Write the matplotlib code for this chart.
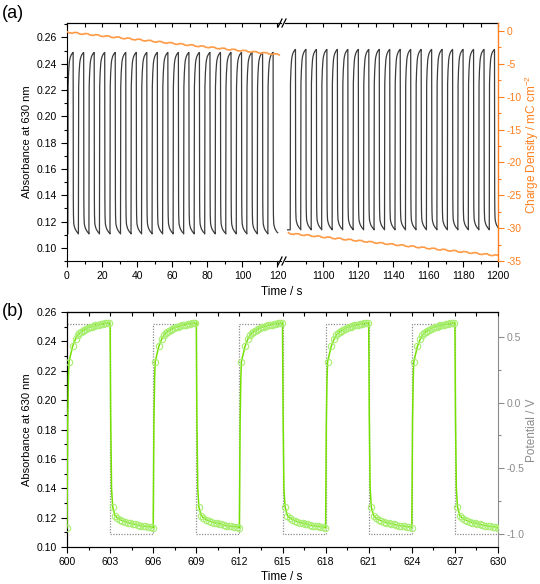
import numpy as np
import matplotlib
from matplotlib import pyplot as plt
from matplotlib.ticker import MultipleLocator, FixedLocator

matplotlib.rcParams["font.family"] = ["Liberation Sans", "DejaVu Sans"]
matplotlib.rcParams["font.size"] = 7.5
matplotlib.rcParams["mathtext.default"] = "regular"
matplotlib.rcParams["axes.unicode_minus"] = False

# one switching cycle (6 s): time after switching, absorbance
rise_edge_dt = [0.0, 0.05, 0.10]
rise_edge_abs = [0.1130, 0.1850, 0.2150]
rise_dt = [0.14, 0.39, 0.60, 0.74, 0.86, 0.97, 1.09, 1.21, 1.32, 1.46, 1.60,
           1.74, 1.86, 1.97, 2.11, 2.25, 2.39, 2.53, 2.67, 2.81, 2.94]
rise_abs = [0.2262, 0.2366, 0.2418, 0.2441, 0.2455, 0.2466, 0.2473, 0.2477, 0.2484,
            0.2493, 0.2498, 0.2500, 0.2505, 0.2509, 0.2511, 0.2513, 0.2518, 0.2520,
            0.2523, 0.2525, 0.2526]
fall_edge_dt = [0.0, 0.04, 0.10]
fall_edge_abs = [0.2526, 0.1900, 0.1400]
fall_dt = [0.18, 0.34, 0.50, 0.69, 0.85, 1.04, 1.22, 1.41, 1.57, 1.73, 1.92, 2.08,
           2.27, 2.45, 2.64, 2.82, 2.98]
fall_abs = [0.1273, 0.1214, 0.1198, 0.1187, 0.1180, 0.1173, 0.1166, 0.1162, 0.1160,
            0.1155, 0.1150, 0.1146, 0.1143, 0.1141, 0.1139, 0.1137, 0.1131]
abs_low_ref, abs_high_ref = 0.1130, 0.2526

# panel (a): plateau levels of the two time windows
left_first_switch, left_end = 0.5, 121.0
left_low, left_high = 0.1106, 0.2486
right_first_switch, right_start, right_end = 1081.0, 1079.5, 1200.0
right_low, right_high = 0.1137, 0.2509

# charge density (mC cm-2): start values and the wiggle of one cycle
charge_left_start = -0.10
charge_right_start = -30.70
charge_cycle_dt = [0.0, 1.0, 3.0, 4.0, 6.0]
charge_cycle_off = [0.0, -0.18, -0.26, -0.14, -0.17]

# panel (b): potential steps (V)
pot_high, pot_low = 0.60, -1.00
b_start, b_end, half_period = 600, 630, 3


def response(first_switch, t_start, t_stop, low, high, with_edges=True):
    ts, vs = [t_start], [abs_low_ref]
    t0 = first_switch
    while t0 < t_stop:
        rd = (rise_edge_dt if with_edges else []) + rise_dt
        ra = (rise_edge_abs if with_edges else []) + rise_abs
        fd = (fall_edge_dt if with_edges else []) + fall_dt
        fa = (fall_edge_abs if with_edges else []) + fall_abs
        ts += [t0 + d for d in rd] + [t0 + half_period + d for d in fd]
        vs += list(ra) + list(fa)
        t0 += 2 * half_period
    ts, vs = np.array(ts), np.array(vs)
    vs = low + (vs - abs_low_ref) / (abs_high_ref - abs_low_ref) * (high - low)
    keep = ts <= t_stop
    return ts[keep], vs[keep]


def charge_trace(t_start, t_stop, start_value):
    ts, vs = [], []
    t0, base = t_start, start_value
    while t0 < t_stop:
        ts += [t0 + d for d in charge_cycle_dt[:-1]]
        vs += [base + o for o in charge_cycle_off[:-1]]
        base += charge_cycle_off[-1]
        t0 += 2 * half_period
    ts.append(t0)
    vs.append(base)
    ts, vs = np.array(ts), np.array(vs)
    keep = ts <= t_stop
    return ts[keep], vs[keep]


W, H = 540, 584
fig = plt.figure(figsize=(W / 100, H / 100), dpi=100)

orange = "#FF7F1E"
orange_line = "#FF9A45"
gray = "#8C8C8C"
dark = "#3C3C3C"

a_bottom, a_top = 1 - 261 / H, 1 - 23 / H
axL = fig.add_axes([67 / W, a_bottom, (281 - 67) / W, a_top - a_bottom])
axR = fig.add_axes([285 / W, a_bottom, (498 - 285) / W, a_top - a_bottom], sharey=axL)

tl, vl = response(left_first_switch, 0.0, 120.3, left_low, left_high)
tr, vr = response(right_first_switch, right_start, right_end, right_low, right_high)
axL.plot(tl, vl, color=dark, lw=0.9)
axR.plot(tr, vr, color=dark, lw=0.9)
axL.set_xlim(0, 122)
axR.set_xlim(1078, 1200)
axL.set_ylim(0.09, 0.271)

axL2 = axL.twinx()
axR2 = axR.twinx()
cl_t, cl_v = charge_trace(0.0, left_end, charge_left_start)
cr_t, cr_v = charge_trace(1080.0, right_end, charge_right_start)
axL2.plot(cl_t, cl_v, color=orange_line, lw=1.2)
axR2.plot(cr_t, cr_v, color=orange_line, lw=1.2)
for a in (axL2, axR2):
    a.set_ylim(-35, 1.2)
axL2.set_axis_off()

# spines / ticks panel (a)
axL.spines["right"].set_visible(False)
axR.spines["right"].set_visible(False)
axR.spines["left"].set_visible(False)
for s in ("left", "top", "bottom"):
    axR2.spines[s].set_visible(False)
axR2.spines["right"].set_color(orange)
axR2.spines["right"].set_linewidth(1.0)

left_major = [0, 20, 40, 60, 80, 100, 120]
left_minor = [10, 30, 50, 70, 90, 110]
right_major = [1100, 1120, 1140, 1160, 1180, 1200]
right_minor = [1090, 1110, 1130, 1150, 1170, 1190]
axL.xaxis.set_major_locator(FixedLocator(left_major))
axL.xaxis.set_minor_locator(FixedLocator(left_minor))
axR.xaxis.set_major_locator(FixedLocator(right_major))
axR.xaxis.set_minor_locator(FixedLocator(right_minor))
axL.yaxis.set_major_locator(MultipleLocator(0.02))
axL.yaxis.set_minor_locator(MultipleLocator(0.01))
axL.yaxis.set_major_formatter(matplotlib.ticker.FormatStrFormatter("%.2f"))
axR2.yaxis.set_major_locator(MultipleLocator(5))
axR2.yaxis.set_minor_locator(MultipleLocator(2.5))
axR2.tick_params(axis="y", which="both", colors=orange, direction="out", width=0.8, pad=2.5)
axR2.tick_params(axis="y", which="major", length=4)
axR2.tick_params(axis="y", which="minor", length=2)

for a, ticks in ((axL, left_major + left_minor), (axR, right_major + right_minor)):
    a.tick_params(which="both", direction="out", width=0.8)
    a.tick_params(which="major", length=4)
    a.tick_params(which="minor", length=2)
    top = a.secondary_xaxis("top")
    top.set_xticks(sorted(ticks))
    top.tick_params(direction="in", length=3, labeltop=False, width=0.8)
axR.tick_params(axis="y", which="both", left=False, right=False, labelleft=False)
axL.tick_params(axis="y", which="both", right=False)

# break marks
for x0 in (281, 285):
    for yy in (23, 261):
        fig.add_artist(plt.Line2D([(x0 - 3) / W, (x0 + 1) / W],
                                  [1 - (yy + 4) / H, 1 - (yy - 4) / H],
                                  color="black", lw=0.9))

fig.text(27 / W, 1 - 142 / H, "Absorbance at 630 nm", rotation=90,
         ha="center", va="center", fontsize=8)
fig.text(532 / W, 1 - 144 / H, "Charge Density / mC cm$^{-2}$", rotation=90,
         ha="center", va="center", fontsize=8.5, color=orange)
fig.text(282 / W, 1 - 292 / H, "Time / s", ha="center", va="center", fontsize=8.5)
fig.text(13 / W, 1 - 13 / H, "(a)", ha="center", va="center", fontsize=13)

# panel (b)
b_bottom, b_top = 1 - 547 / H, 1 - 312 / H
axb = fig.add_axes([67 / W, b_bottom, (498 - 67) / W, b_top - b_bottom])
pot_t, pot_v = [], []
for k, t0 in enumerate(range(b_start, b_end, half_period)):
    level = pot_high if k % 2 == 0 else pot_low
    pot_t += [t0, t0 + half_period]
    pot_v += [level, level]
axb2 = axb.twinx()
axb2.plot(pot_t, pot_v, color=gray, lw=0.9, ls=(0, (1, 1.2)))
axb2.set_ylim(-1.1, 0.69)

bt, bv = response(b_start, b_start, b_end, abs_low_ref, abs_high_ref)
mt, mv = response(b_start, b_start, b_end, abs_low_ref, abs_high_ref, with_edges=False)
axb.plot(bt, bv, color="#74E000", lw=1.1, zorder=3)
axb.plot(mt, mv, ls="none", marker="o", ms=4.6, mfc="none", mec="#A8EE70", mew=0.8, zorder=4)
axb.set_xlim(b_start, b_end)
axb.set_ylim(0.10, 0.26)
axb.set_zorder(axb2.get_zorder() + 1)
axb.patch.set_visible(False)

axb.xaxis.set_major_locator(MultipleLocator(3))
axb.xaxis.set_minor_locator(MultipleLocator(1.5))
axb.yaxis.set_major_locator(MultipleLocator(0.02))
axb.yaxis.set_minor_locator(MultipleLocator(0.01))
axb.yaxis.set_major_formatter(matplotlib.ticker.FormatStrFormatter("%.2f"))
axb.tick_params(which="both", direction="out", width=0.8)
axb.tick_params(which="major", length=4)
axb.tick_params(which="minor", length=2)
axb.tick_params(axis="y", which="both", right=False)
topb = axb.secondary_xaxis("top")
topb.set_xticks(list(np.arange(600, 631, 1.5)))
topb.tick_params(direction="in", length=3, labeltop=False, width=0.8)

axb2.yaxis.set_major_locator(MultipleLocator(0.5))
axb2.yaxis.set_minor_locator(MultipleLocator(0.25))
axb2.yaxis.set_major_formatter(matplotlib.ticker.FormatStrFormatter("%.1f"))
axb2.tick_params(axis="y", which="both", colors=gray, direction="out", width=0.8, pad=2.5)
axb2.tick_params(axis="y", which="major", length=4)
axb2.tick_params(axis="y", which="minor", length=2)
axb2.spines["right"].set_color(gray)
axb.spines["right"].set_visible(False)

fig.text(27 / W, 1 - 430 / H, "Absorbance at 630 nm", rotation=90,
         ha="center", va="center", fontsize=8)
fig.text(532 / W, 1 - 430 / H, "Potential / V", rotation=90,
         ha="center", va="center", fontsize=8.5, color=gray)
fig.text(282 / W, 1 - 577 / H, "Time / s", ha="center", va="center", fontsize=8.5)
fig.text(13 / W, 1 - 312 / H, "(b)", ha="center", va="center", fontsize=13)

fig.savefig("out.png", dpi=100)
